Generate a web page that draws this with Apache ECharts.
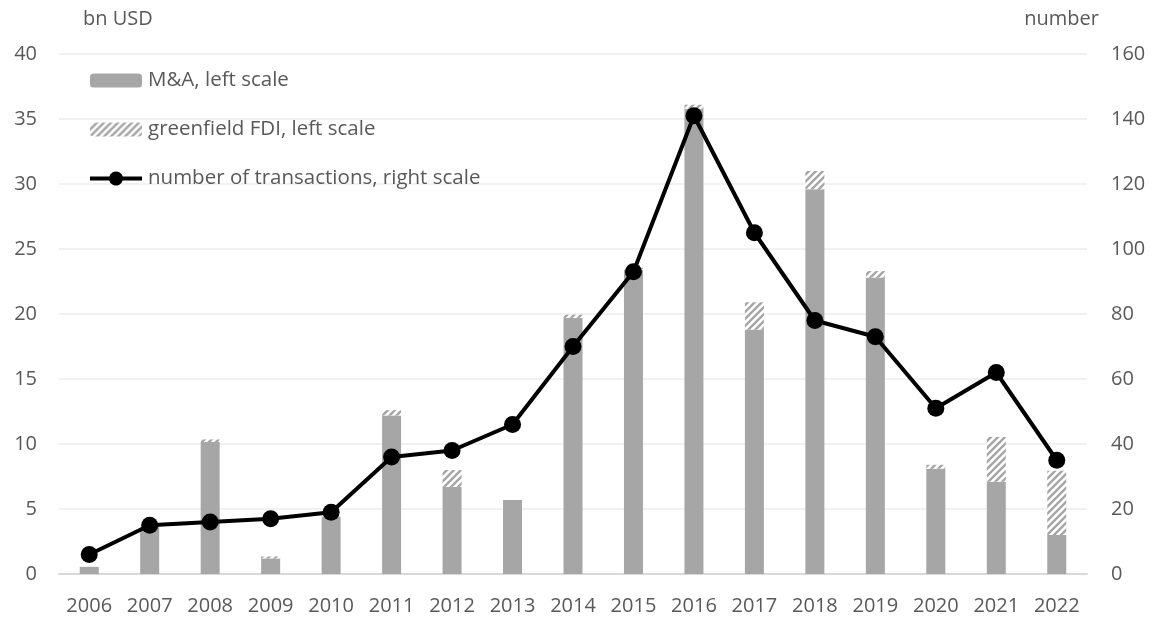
<!DOCTYPE html>
<html>
<head>
<meta charset="utf-8">
<script src="https://cdn.jsdelivr.net/npm/echarts@6/dist/echarts.min.js"></script>
<style>
  html, body { margin: 0; padding: 0; background: #fff; }
  #chart { width: 1158px; height: 620px; }
</style>
</head>
<body>
<div id="chart"></div>
<script>
// Years on the category axis
const years = ['2006','2007','2008','2009','2010','2011','2012','2013','2014','2015','2016','2017','2018','2019','2020','2021','2022'];
// M&A value, bn USD (left scale)
const mergersAcquisitions = [0.55, 3.6, 10.15, 1.2, 4.4, 12.2, 6.7, 5.7, 19.7, 23.4, 35.8, 18.8, 29.6, 22.8, 8.1, 7.1, 3.0];
// Greenfield FDI, bn USD (left scale), stacked on top of M&A
const greenfieldFDI = [0, 0.1, 0.2, 0.15, 0, 0.4, 1.3, 0, 0.25, 0.15, 0.3, 2.1, 1.4, 0.5, 0.3, 3.45, 4.95];
// Number of transactions (right scale)
const transactions = [6, 15, 16, 17, 19, 36, 38, 46, 70, 93, 141, 105, 78, 73, 51, 62, 35];

const FONT = '"Open Sans", "Liberation Sans", sans-serif';
const TEXT = '#595959';
const BAR = '#a6a6a6';

// Diagonal hatch fill for the greenfield segments
function hatchPattern() {
  const s = 7;
  const c = document.createElement('canvas');
  c.width = s; c.height = s;
  const g = c.getContext('2d');
  g.fillStyle = '#ffffff';
  g.fillRect(0, 0, s, s);
  g.strokeStyle = BAR;
  g.lineWidth = 2.4;
  g.beginPath();
  g.moveTo(-1, s + 1); g.lineTo(s + 1, -1);
  g.moveTo(-1, 1); g.lineTo(1, -1);
  g.moveTo(s - 1, s + 1); g.lineTo(s + 1, s - 1);
  g.stroke();
  return c;
}

// Legend icon for the line series: a thick line with a round marker
const lineMarkerIcon = 'path://M0,5 L19.3,5 A7,7 0 0,1 32.7,5 L52,5 L52,9 L32.7,9 A7,7 0 0,1 19.3,9 L0,9 Z';

const chart = echarts.init(document.getElementById('chart'), null, { renderer: 'canvas' });

chart.setOption({
  animation: false,
  textStyle: { fontFamily: FONT },
  grid: { left: 59, right: 71, top: 54, bottom: 46 },
  legend: {
    orient: 'vertical',
    left: 85,
    top: 65,
    itemWidth: 52,
    itemHeight: 14,
    itemGap: 28,
    textStyle: { fontFamily: FONT, fontSize: 20.5, color: TEXT, lineHeight: 20, padding: [0, 0, 0, 1] },
    data: [
      { name: 'M&A, left scale' },
      { name: 'greenfield FDI, left scale' },
      { name: 'number of transactions, right scale', icon: lineMarkerIcon, itemStyle: { color: '#000' } }
    ]
  },
  graphic: [
    { type: 'text', left: 83, top: 9, style: { text: 'bn USD', font: '20px ' + FONT, fill: TEXT } },
    { type: 'text', right: 59, top: 9, style: { text: 'number', font: '20px ' + FONT, fill: TEXT } }
  ],
  xAxis: {
    type: 'category',
    data: years,
    axisTick: { show: false },
    axisLine: { lineStyle: { color: '#d9d9d9', width: 2 } },
    axisLabel: { color: TEXT, fontSize: 20, margin: 22, fontFamily: FONT }
  },
  yAxis: [
    {
      type: 'value', min: 0, max: 40, interval: 5,
      axisLine: { show: false }, axisTick: { show: false },
      splitLine: { lineStyle: { color: '#ececec', width: 1.5 } },
      axisLabel: { color: TEXT, fontSize: 20, margin: 22, fontFamily: FONT }
    },
    {
      type: 'value', min: 0, max: 160, interval: 20,
      axisLine: { show: false }, axisTick: { show: false },
      splitLine: { show: false },
      axisLabel: { color: TEXT, fontSize: 20, margin: 24, fontFamily: FONT }
    }
  ],
  series: [
    {
      name: 'M&A, left scale',
      type: 'bar', stack: 'fdi', yAxisIndex: 0,
      barWidth: 19,
      itemStyle: { color: BAR },
      data: mergersAcquisitions
    },
    {
      name: 'greenfield FDI, left scale',
      type: 'bar', stack: 'fdi', yAxisIndex: 0,
      barWidth: 19,
      itemStyle: { color: { image: hatchPattern(), repeat: 'repeat' } },
      data: greenfieldFDI
    },
    {
      name: 'number of transactions, right scale',
      type: 'line', yAxisIndex: 1,
      symbol: 'circle', symbolSize: 17,
      lineStyle: { color: '#000', width: 4 },
      itemStyle: { color: '#000' },
      z: 5,
      data: transactions
    }
  ]
});
</script>
</body>
</html>
